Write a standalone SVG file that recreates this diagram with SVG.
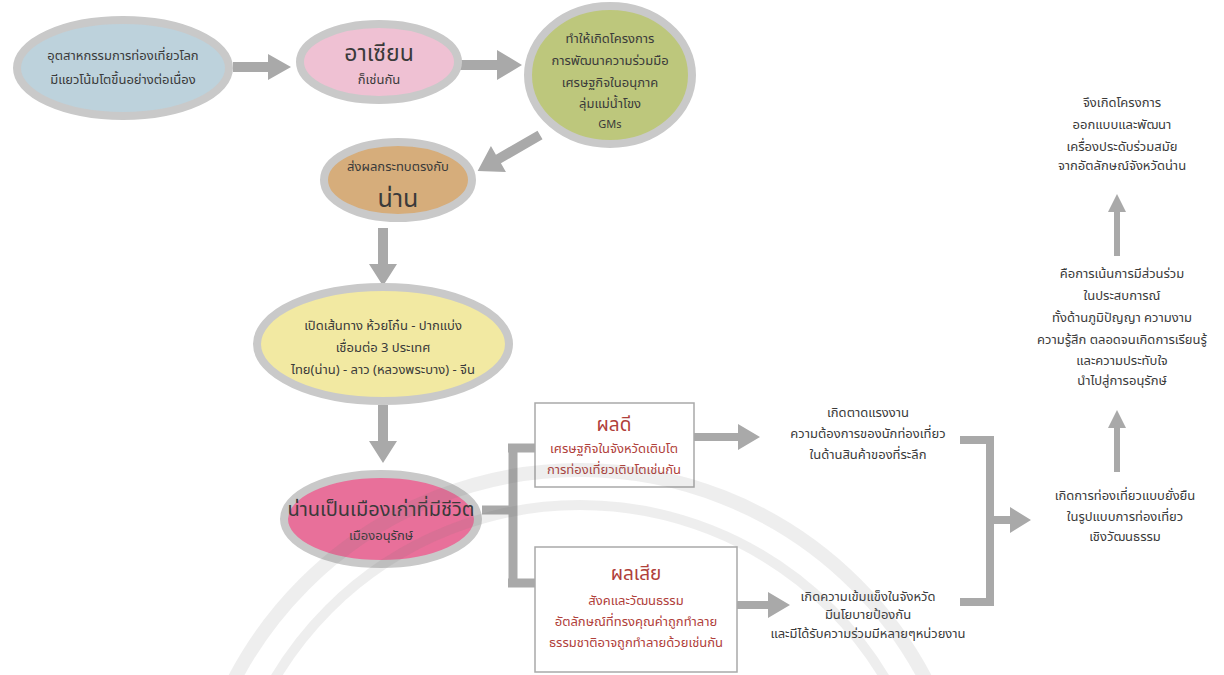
<svg xmlns="http://www.w3.org/2000/svg" width="1224" height="675" viewBox="0 0 1224 675">
<style>
.t{font-family:"Noto Sans Thai","Noto Sans","DejaVu Sans",sans-serif;fill:#3a3a3a;text-anchor:middle;font-size:13px}
.r{fill:#b0403a}
.big{font-size:20px}
.big2{font-size:23px}
.huge{font-size:25px}
.head{font-size:19px}
.sm{font-size:11px}
.e{stroke:#c9c9c9;stroke-width:8}
.ar{fill:#a9a9a9}
.ln{stroke:#a9a9a9;fill:none}
.wm{fill:none;stroke:#777777;stroke-opacity:0.12}
</style>
<rect width="1224" height="675" fill="#ffffff"/>
<g id="connectors">
<polygon class="ar" points="233,62 268,62 268,54 291,67 268,80 268,72 233,72"/>
<polygon class="ar" points="458,60 497,60 497,50 522,65 497,80 497,70 458,70"/>
<polygon class="ar" transform="translate(540,135) rotate(150)" points="0,-5 48,-5 48,-15 72,0 48,15 48,5 0,5"/>
<polygon class="ar" points="378,228 388,228 388,264 397,264 383,286 369,264 378,264"/>
<polygon class="ar" points="378,405 388,405 388,441 397,441 383,463 369,441 378,441"/>
<path class="ln" stroke-width="9" d="M482 510 H513 M513 444 V587 M508 448 H536 M508 583 H536"/>
<polygon class="ar" points="694,433 738,433 738,424 760,437 738,450 738,441 694,441"/>
<polygon class="ar" points="737,601 768,601 768,592 790,605 768,618 768,609 737,609"/>
<path class="ln" stroke-width="8" d="M960 440 H990 V602 H960"/>
<polygon class="ar" points="990,516 1010,516 1010,507 1031,520 1010,533 1010,524 990,524"/>
<polygon class="ar" points="1114,472 1120,472 1120,428 1126,428 1117,410 1108,428 1114,428"/>
<polygon class="ar" points="1114,256 1120,256 1120,212 1126,212 1117,194 1108,212 1114,212"/>
</g>
<g id="n1">
<ellipse class="e" cx="123" cy="68" rx="106" ry="48" fill="#bdd2dc"/>
<text class="t" x="123" y="60">อุตสาหกรรมการท่องเที่ยวโลก</text>
<text class="t" x="123" y="84">มีแยวโน้มโตขึ้นอย่างต่อเนื่อง</text>
</g>
<g id="n2">
<ellipse class="e" cx="379" cy="62" rx="79" ry="38" fill="#efc1d3"/>
<text class="t big2" x="379" y="61">อาเซียน</text>
<text class="t" x="379" y="84">ก็เช่นกัน</text>
</g>
<g id="n3">
<ellipse class="e" cx="610" cy="75" rx="82" ry="69" fill="#bdc77c"/>
<text class="t" x="610" y="43">ทำให้เกิดโครงการ</text>
<text class="t" x="610" y="65">การพัฒนาความร่วมมือ</text>
<text class="t" x="610" y="87">เศรษฐกิจในอนุภาค</text>
<text class="t" x="610" y="108">ลุ่มแม่น้ำโขง</text>
<text class="t sm" x="610" y="128">GMs</text>
</g>
<g id="n4">
<ellipse class="e" cx="398" cy="180" rx="74" ry="38" fill="#d6ad7b"/>
<text class="t" x="398" y="171">ส่งผลกระทบตรงกับ</text>
<text class="t huge" x="398" y="207">น่าน</text>
</g>
<g id="n5">
<ellipse class="e" cx="383" cy="344" rx="126" ry="57" fill="#f2e9a2"/>
<text class="t" x="383" y="330">เปิดเส้นทาง ห้วยโก๋น - ปากแบ่ง</text>
<text class="t" x="383" y="352">เชื่อมต่อ 3 ประเทศ</text>
<text class="t" x="383" y="374">ไทย(น่าน) - ลาว (หลวงพระบาง) - จีน</text>
</g>
<g id="n6">
<ellipse class="e" cx="381" cy="519" rx="97" ry="45" fill="#e8709a"/>
<text class="t big" x="381" y="516">น่านเป็นเมืองเก่าที่มีชีวิต</text>
<text class="t" x="381" y="540">เมืองอนุรักษ์</text>
</g>
<g id="good">
<rect x="535" y="403" width="159" height="84" fill="#ffffff" stroke="#a9a9a9" stroke-width="1.5"/>
<text class="t r head" x="614" y="431">ผลดี</text>
<text class="t r" x="614" y="453">เศรษฐกิจในจังหวัดเติบโต</text>
<text class="t r" x="614" y="474">การท่องเที่ยวเติบโตเช่นกัน</text>
</g>
<g id="bad">
<rect x="535" y="547" width="202" height="125" fill="#ffffff" stroke="#a9a9a9" stroke-width="1.5"/>
<text class="t r head" x="636" y="580">ผลเสีย</text>
<text class="t r" x="636" y="605">สังคและวัฒนธรรม</text>
<text class="t r" x="636" y="626">อัตลักษณ์ที่ทรงคุณค่าถูกทำลาย</text>
<text class="t r" x="636" y="647">ธรรมชาติอาจถูกทำลายด้วยเช่นกัน</text>
</g>
<g id="demand">
<text class="t" x="868" y="417">เกิดตาดแรงงาน</text>
<text class="t" x="868" y="438">ความต้องการของนักท่องเที่ยว</text>
<text class="t" x="868" y="459">ในด้านสินค้าของที่ระลึก</text>
</g>
<g id="strength">
<text class="t" x="868" y="601">เกิดความเข้มแข็งในจังหวัด</text>
<text class="t" x="868" y="619">มีนโยบายป้องกัน</text>
<text class="t" x="868" y="638">และมีได้รับความร่วมมีหลายๆหน่วยงาน</text>
</g>
<g id="sustain">
<text class="t" x="1125" y="500">เกิดการท่องเที่ยวแบบยั่งยืน</text>
<text class="t" x="1125" y="521">ในรูปแบบการท่องเที่ยว</text>
<text class="t" x="1125" y="541">เชิงวัฒนธรรม</text>
</g>
<g id="participation">
<text class="t" x="1122" y="278">คือการเน้นการมีส่วนร่วม</text>
<text class="t" x="1122" y="300">ในประสบการณ์</text>
<text class="t" x="1122" y="322">ทั้งด้านภูมิปัญญา ความงาม</text>
<text class="t" x="1122" y="344">ความรู้สึก ตลอดจนเกิดการเรียนรู้</text>
<text class="t" x="1122" y="365">และความประทับใจ</text>
<text class="t" x="1122" y="385">นำไปสู่การอนุรักษ์</text>
</g>
<g id="project">
<text class="t" x="1122" y="107">จึงเกิดโครงการ</text>
<text class="t" x="1122" y="129">ออกแบบและพัฒนา</text>
<text class="t" x="1122" y="151">เครื่องประดับร่วมสมัย</text>
<text class="t" x="1122" y="170">จากอัตลักษณ์จังหวัดน่าน</text>
</g>
<g id="watermark">
<circle class="wm" cx="580" cy="860" r="390" stroke-width="14"/>
<circle class="wm" cx="580" cy="860" r="355" stroke-width="10"/>
</g>
</svg>
